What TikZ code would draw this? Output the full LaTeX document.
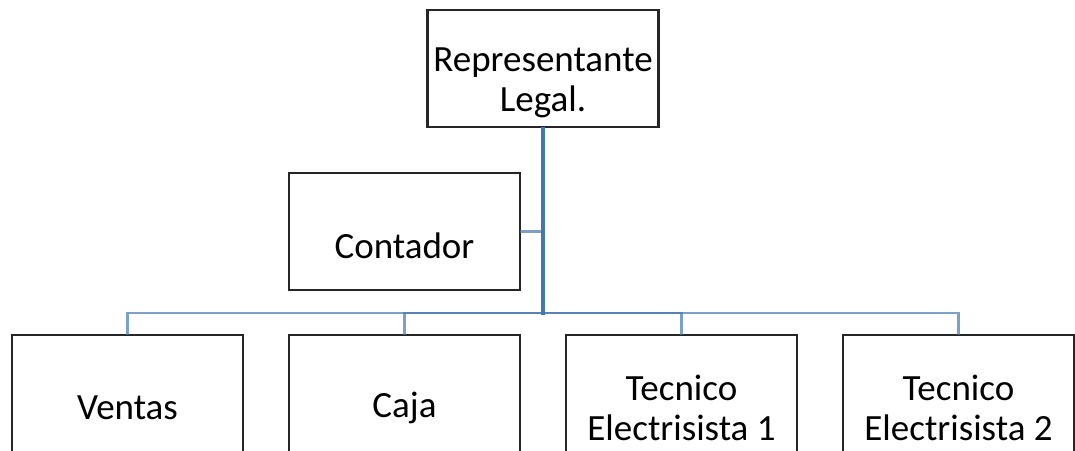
\documentclass[tikz,border=0pt]{standalone}
\usepackage{fontspec}
\setmainfont{Carlito}
\usetikzlibrary{positioning}
\definecolor{linkblue}{HTML}{4577B0}
\tikzset{org box/.style={draw=black!85,line width=2.2pt,fill=white,minimum width=231pt,minimum height=117pt,inner sep=0pt,outer sep=0pt},
box text/.style={align=center,font=\fontsize{37}{40}\selectfont,yshift=-14pt},
trunk/.style={draw=linkblue,line width=4pt},
branch/.style={draw=linkblue,line width=2.4pt,draw opacity=0.7}}

\begin{document}
\begin{tikzpicture}[x=1pt,y=1pt]
	\useasboundingbox (0,0) rectangle (1075,-450);
	% boxes
	\node[org box,label={[box text]center:Representante\\Legal.}] (rep) at (543,-68.5) {};
	\node[org box,label={[box text]center:Ventas}] (ventas) at (127.5,-393.5) {};
	\node[org box,label={[box text]center:Caja},right=46pt of ventas] (caja) {};
	\node[org box,label={[box text]center:Tecnico\\Electrisista 1},right=46pt of caja] (tec1) {};
	\node[org box,label={[box text]center:Tecnico\\Electrisista 2},right=46pt of tec1] (tec2) {};
	\node[org box,label={[box text]center:Contador},above=45pt of caja] (cont) {};
	% connectors
	\coordinate (hub) at (rep.south |- 0,-313);
	\draw[branch] (cont.east) -- (cont.east -| rep.south);
	\draw[branch] (hub) -| (ventas.north);
	\draw[branch] (hub) -| (caja.north);
	\draw[branch] (hub) -| (tec1.north);
	\draw[branch] (hub) -| (tec2.north);
	\draw[trunk] (rep.south) -- ([yshift=-1.5pt]hub);
\end{tikzpicture}
\end{document}
